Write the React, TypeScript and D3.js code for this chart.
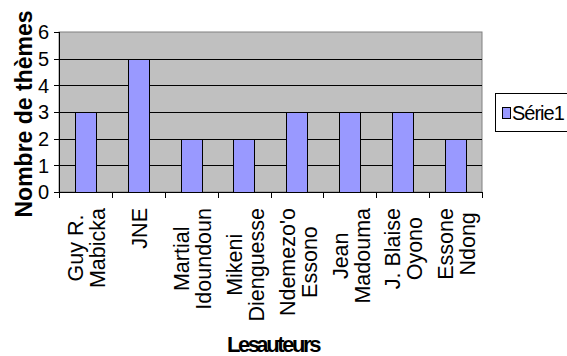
import React, { useEffect, useRef } from "react";
import * as d3 from "d3";

// Authors (each entry is the list of lines of its axis label)
const authors: string[][] = [
  ["Guy R.", "Mabicka"],
  ["JNE"],
  ["Martial", "Idoundoun"],
  ["Mikeni", "Dienguesse"],
  ["Ndemezo'o", "Essono"],
  ["Jean", "Madouma"],
  ["J. Blaise", "Oyono"],
  ["Essone", "Ndong"],
];
// Number of themes per author
const themeCounts: number[] = [3, 5, 2, 2, 3, 3, 3, 2];
const yTickValues: number[] = [0, 1, 2, 3, 4, 5, 6];
const seriesName = "Série1";
const xTitle = "Les auteurs";
const yTitle = "Nombre de thèmes";

const W = 567;
const H = 356;
const FONT = "Arial, 'Liberation Sans', sans-serif";

export default function App() {
  const ref = useRef<SVGSVGElement | null>(null);

  useEffect(() => {
    const svg = d3.select(ref.current);
    svg.selectAll("*").remove();

    const plot = { left: 59, right: 482, top: 32, bottom: 192 };

    const x = d3
      .scaleBand<number>()
      .domain(authors.map((_, i) => i))
      .range([plot.left, plot.right])
      .paddingInner(0.6)
      .paddingOuter(0.3);
    const y = d3.scaleLinear().domain([0, 6]).range([plot.bottom, plot.top]);

    svg.append("rect").attr("width", W).attr("height", H).attr("fill", "#fff");

    // plot area
    svg
      .append("rect")
      .attr("x", plot.left)
      .attr("y", plot.top)
      .attr("width", plot.right - plot.left)
      .attr("height", plot.bottom - plot.top)
      .attr("fill", "#C0C0C0")
      .attr("stroke", "#808080")
      .attr("stroke-width", 1);

    // gridlines
    svg
      .append("g")
      .selectAll("line")
      .data(yTickValues.filter((v) => v > 0 && v < 6))
      .join("line")
      .attr("x1", plot.left)
      .attr("x2", plot.right)
      .attr("y1", (d) => Math.round(y(d)) + 0.5)
      .attr("y2", (d) => Math.round(y(d)) + 0.5)
      .attr("stroke", "#000")
      .attr("stroke-width", 1);

    // bars
    svg
      .append("g")
      .selectAll("rect")
      .data(themeCounts)
      .join("rect")
      .attr("x", (_, i) => Math.round(x(i)!) + 0.5)
      .attr("y", (d) => Math.round(y(d)) + 0.5)
      .attr("width", Math.round(x.bandwidth()))
      .attr("height", (d) => Math.round(y(0)) - Math.round(y(d)))
      .attr("fill", "#9999FF")
      .attr("stroke", "#000")
      .attr("stroke-width", 1);

    // y axis
    const gy = svg.append("g");
    gy.append("line")
      .attr("x1", plot.left + 0.5)
      .attr("x2", plot.left + 0.5)
      .attr("y1", plot.top)
      .attr("y2", plot.bottom)
      .attr("stroke", "#000");
    gy.selectAll("line.tick")
      .data(yTickValues)
      .join("line")
      .attr("class", "tick")
      .attr("x1", plot.left - 5)
      .attr("x2", plot.left)
      .attr("y1", (d) => Math.round(y(d)) + 0.5)
      .attr("y2", (d) => Math.round(y(d)) + 0.5)
      .attr("stroke", "#000");
    gy.selectAll("text")
      .data(yTickValues)
      .join("text")
      .attr("x", plot.left - 10)
      .attr("y", (d) => y(d))
      .attr("dy", "0.36em")
      .attr("text-anchor", "end")
      .attr("font-family", FONT)
      .attr("font-size", 20)
      .text((d) => String(d));

    // x axis
    const gx = svg.append("g");
    gx.append("line")
      .attr("x1", plot.left)
      .attr("x2", plot.right)
      .attr("y1", plot.bottom + 0.5)
      .attr("y2", plot.bottom + 0.5)
      .attr("stroke", "#000");
    const step = x.step();
    gx.selectAll("line.tick")
      .data(d3.range(authors.length + 1))
      .join("line")
      .attr("class", "tick")
      .attr("x1", (i) => Math.round(plot.left + i * step) + 0.5)
      .attr("x2", (i) => Math.round(plot.left + i * step) + 0.5)
      .attr("y1", plot.bottom)
      .attr("y2", plot.bottom + 6)
      .attr("stroke", "#000");

    // rotated multi-line category labels, lines centred on the longest one
    const labelTop = 208;
    const lineH = 22;
    authors.forEach((lines, i) => {
      const cx = x(i)! + x.bandwidth() / 2 + 1;
      const g = gx
        .append("g")
        .attr("transform", `translate(${cx},${labelTop}) rotate(-90)`);
      const texts = lines.map((ln, k) =>
        g
          .append("text")
          .attr("x", 0)
          .attr("y", (k - (lines.length - 1) / 2) * lineH)
          .attr("dy", "0.36em")
          .attr("text-anchor", "end")
          .attr("font-family", FONT)
          .attr("font-size", 21.5)
          .text(ln)
      );
      const lens = texts.map((t) => (t.node() as SVGTextElement).getComputedTextLength());
      const maxLen = Math.max(...lens);
      texts.forEach((t, k) => t.attr("x", -(maxLen - lens[k]) / 2));
    });

    // axis titles
    svg
      .append("text")
      .attr("transform", `translate(32,${(plot.top + plot.bottom) / 2 + 2}) rotate(-90)`)
      .attr("text-anchor", "middle")
      .attr("font-family", FONT)
      .attr("font-weight", "bold")
      .attr("font-size", 23)
      .text(yTitle);

    svg
      .append("text")
      .attr("x", 273)
      .attr("y", 352)
      .attr("text-anchor", "middle")
      .attr("font-family", FONT)
      .attr("font-weight", "bold")
      .attr("font-size", 22)
      .attr("letter-spacing", "-2.4")
      .attr("word-spacing", "-5")
      .text(xTitle);

    // legend
    const lg = svg.append("g");
    lg.append("rect")
      .attr("x", 495.5)
      .attr("y", 93.5)
      .attr("width", 80)
      .attr("height", 38)
      .attr("fill", "#fff")
      .attr("stroke", "#000");
    lg.append("rect")
      .attr("x", 502.5)
      .attr("y", 107.5)
      .attr("width", 8)
      .attr("height", 11)
      .attr("fill", "#9999FF")
      .attr("stroke", "#000");
    lg.append("text")
      .attr("x", 512)
      .attr("y", 113)
      .attr("dy", "0.36em")
      .attr("font-family", FONT)
      .attr("font-size", 20)
      .attr("letter-spacing", "-1")
      .attr("word-spacing", "0")
      .text(seriesName);
  }, []);

  return (
    <svg
      ref={ref}
      width={W}
      height={H}
      style={{ position: "absolute", left: 0, top: 0, display: "block" }}
    />
  );
}
